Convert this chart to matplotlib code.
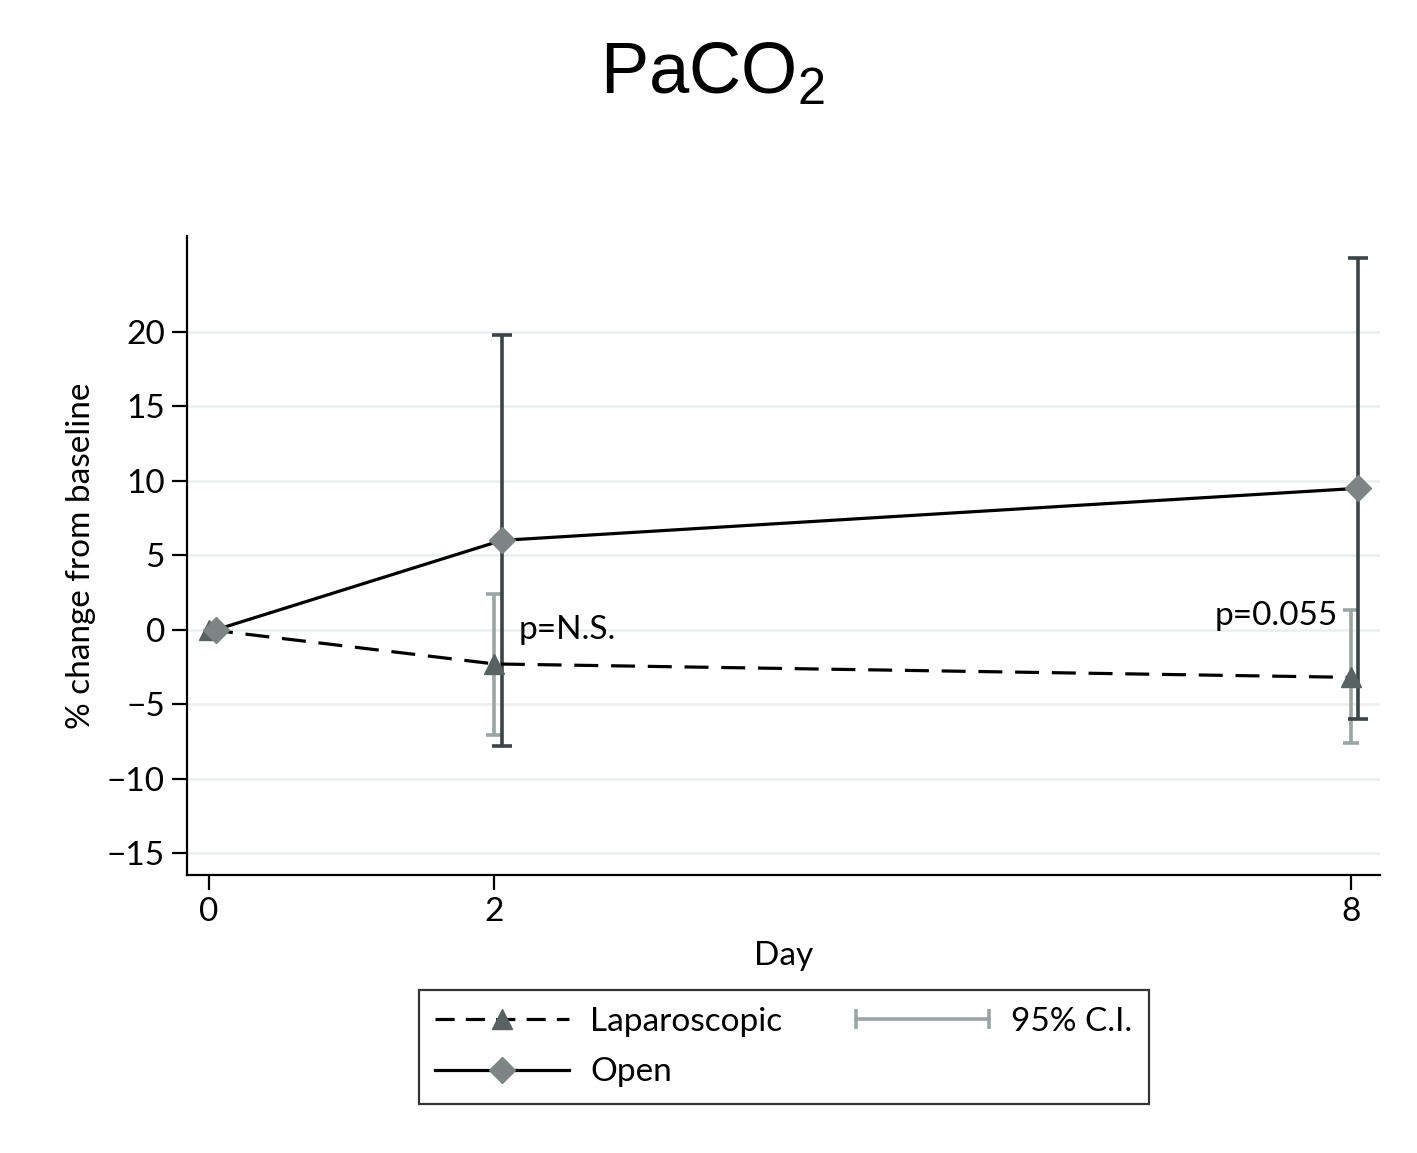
import matplotlib
matplotlib.use("Agg")
import matplotlib.pyplot as plt
from matplotlib.lines import Line2D
from matplotlib.legend_handler import HandlerLine2D
import numpy as np

plt.rcParams['font.family'] = ['Lato', 'DejaVu Sans']
plt.rcParams['mathtext.fontset'] = 'custom'
plt.rcParams['mathtext.rm'] = 'Liberation Sans'

# Data
days = [0, 2, 8]
lap_mean = [0.0, -2.3, -3.2]
lap_lo = [0.0, -7.1, -7.6]
lap_hi = [0.0, 2.4, 1.3]
open_mean = [0.0, 6.0, 9.5]
open_lo = [0.0, -7.8, -6.0]
open_hi = [0.0, 19.8, 25.0]
yticks = [-15, -10, -5, 0, 5, 10, 15, 20]
p_labels = ["p=N.S.", "p=0.055"]

open_offset = 0.05

fig = plt.figure(figsize=(14.17, 11.53), dpi=100)
ax = fig.add_axes([0.132, 0.2411, 0.842, 0.5542])

x_lap = np.array(days, dtype=float)
x_open = x_lap + open_offset

c_lap_err = '#9ba6a4'
c_open_err = '#3b4446'
c_tri = '#586260'
c_dia = '#7d8483'

lm = np.array(lap_mean); om = np.array(open_mean)
lerr = np.vstack([lm - np.array(lap_lo), np.array(lap_hi) - lm])
oerr = np.vstack([om - np.array(open_lo), np.array(open_hi) - om])
ax.errorbar(x_lap[1:], lm[1:], yerr=lerr[:, 1:], fmt='none', ecolor=c_lap_err,
            elinewidth=2.6, capsize=6, capthick=2.6, zorder=3)
ax.errorbar(x_open[1:], om[1:], yerr=oerr[:, 1:], fmt='none', ecolor=c_open_err,
            elinewidth=2.6, capsize=7, capthick=2.6, zorder=4)

ax.plot(x_lap, lm, color='black', lw=2.3, dashes=(7.5, 4), zorder=5)
ax.plot(x_open, om, color='black', lw=2.3, zorder=5)
ax.plot(x_lap, lm, ls='none', marker='^', ms=14, color=c_tri, mec=c_tri, zorder=6)
ax.plot(x_open, om, ls='none', marker='D', ms=13, color=c_dia, mec=c_dia, zorder=6)

ax.text(2.17, 0.0, p_labels[0], fontsize=24, ha='left', va='center')
ax.text(7.91, 0.9, p_labels[1], fontsize=24, ha='right', va='center')

ax.set_xlim(-0.154, 8.206)
ax.set_ylim(-16.48, 26.45)
ax.set_yticks(yticks)
ax.set_yticklabels([str(v).replace('-', '\u2212') for v in yticks])
ax.set_xticks(days)
ax.set_xticklabels([str(d) for d in days])
ax.tick_params(axis='both', labelsize=24, length=11, width=1.6, direction='out', pad=5)
for s in ['top', 'right']:
    ax.spines[s].set_visible(False)
for s in ['left', 'bottom']:
    ax.spines[s].set_linewidth(1.6)
ax.yaxis.grid(True, color='#ebefed', lw=1.8)
ax.set_axisbelow(True)

ax.set_xlabel('Day', fontsize=24, labelpad=10)
ax.set_ylabel('% change from baseline', fontsize=24, labelpad=8)

fig.text(0.503, 1 - 75 / 1153, r'PaCO$_\mathregular{2}$', fontsize=52,
         ha='center', va='center', family='Liberation Sans')

h_lap = Line2D([], [], color='black', lw=2.3, dashes=(6, 3.5), marker='^', ms=14,
               mfc=c_tri, mec=c_tri)
h_open = Line2D([], [], color='black', lw=2.3, marker='D', ms=13, mfc=c_dia, mec=c_dia)
h_ci = Line2D([], [], color=c_lap_err, lw=2.6, marker='|', ms=14, mew=2.6)
leg = fig.legend([h_lap, h_open, h_ci], ['Laparoscopic', 'Open', '95% C.I.'],
                 ncol=2, loc='center', bbox_to_anchor=(0.553, 1 - 1047 / 1153),
                 fontsize=24, frameon=True, fancybox=False, edgecolor='black',
                 handlelength=4.0, handletextpad=0.65, columnspacing=2.2,
                 labelspacing=0.62, borderpad=0.5,
                 handler_map={h_ci: HandlerLine2D(numpoints=2, marker_pad=0)})
leg.get_frame().set_linewidth(1.6)
leg.set_zorder(10)

fig.savefig('out.png', dpi=100, facecolor='white')
